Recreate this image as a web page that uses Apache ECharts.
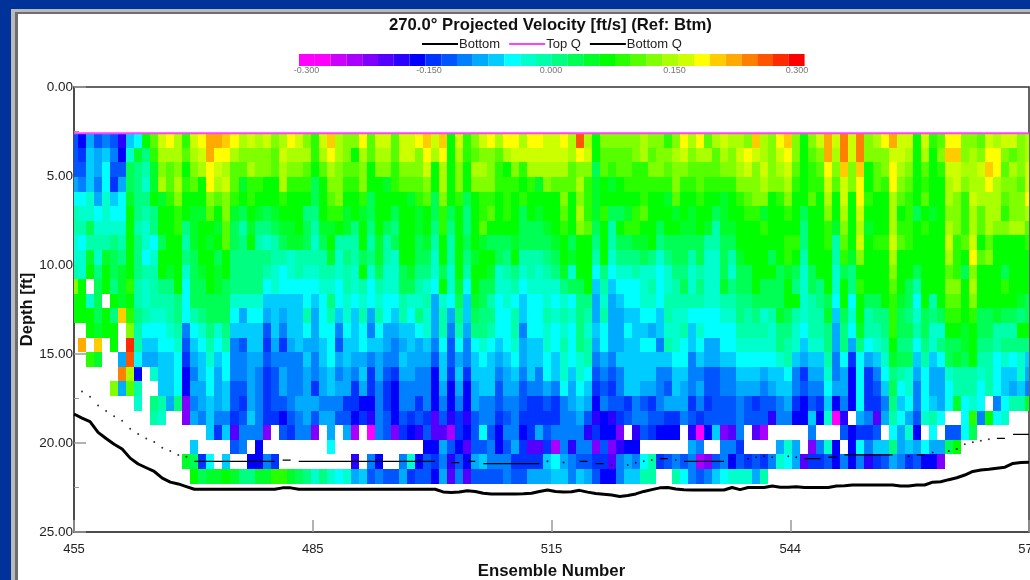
<!DOCTYPE html>
<html><head><meta charset="utf-8">
<style>html,body{margin:0;padding:0;background:#003399;overflow:hidden}#c{width:1030px;height:580px}</style>
<script src="https://cdn.jsdelivr.net/npm/echarts@6/dist/echarts.min.js"></script>
</head><body><div id="c"></div>
<script>
const titleText = "270.0° Projected Velocity [ft/s] (Ref: Btm)";
const firstEnsemble = 455;
const firstBinDepth = 2.6;
const binHeight = 0.82;
const xTickValues = [455, 484.75, 514.5, 544.25, 574];
const colorbarTicks = ["-0.300", "-0.150", "0.000", "0.150", "0.300"];
const palette = ["#FF00FF","#FF00FF","#CC00FF","#AA00FF","#8000FF","#5500FF","#2A00FF","#0000FF","#0033FF","#0055FF","#0080FF","#00AAFF","#00CCFF","#00FFFF","#00FFCC","#00FFAA","#00FF80","#00FF55","#00FF2A","#00FF00","#2AFF00","#55FF00","#80FF00","#AAFF00","#CCFF00","#FFFF00","#FFCC00","#FFAA00","#FF8000","#FF5500","#FF2A00","#FF0000"];
// velocity class read per cell: one letter per ensemble, "." = no data
const levelCodes = "abcdefghijklmnopqrstuvwxyzABCDE";
const velocityRows = [
"igkijiflms uxywtxyAAz ywxwxvwyxv txzwvvyuxx uxxyzxzsxt vxywyywyyx xywCwsvvvv vwvvtvywyu wxwwvzwvyz vsvxAxBxBv wyAxxsxtuy yvvuxwxxvw",
"ihlkljgnrp twwwuwxAyy wvvvvuxwww twywvswuww uxxvywyswt uvvuwxxxxx xxwyxsuuuu vwuvvwxvww uwvxyxwvxy vsuvAwBxBv vvxxwswsvz zvwvyyvuvw",
"iilkmiiqpo rvuvsvwyxw uuwvvuwvvu suwvuuvsvv tvvvxswsvs wwvtsvtwww wwuvvqutuu ttvvuvvuuu uvvwxvxvwx ustuyvzvzs uvywvsustx xwwxzyuwvx",
"kjljmhkqpn rwuwtusywx urttsswttt qsvvttvssr tuuuvswsvs vvvtttstrv uuuwtrsrst tttttvttut tttvvvwvvw tsttxuxvys utyvustssw xvwwywvvux",
"mmnknlmrpp srtvsssvuv tstssstsss qsuvsstqss ssrtuqvstq sttststsss svsvtrssss stssrussts srstuvvstv ssuswsxsyt sswutsussw vtxwwwuvvy",
"onnmnmmspo psstsrrusv rqsrqrsssp psttrsrqss qssrsqtqsp stustsqsrs suswtrtqqr tusssrsrss qrssttrsst sqssvswsxs sswstqsrsv vtwuwwtvvw",
"ooqnnnnson psstprssru qorppqrrsq orrsrpspsq pssrsptpsp sussssqqqr stsvuqsost tssqssrrsr orrssstsss spsstrvswr sswttstssw vtwuwvvwwu",
"nmooopospn mqssorsrsu qpsonoqrrq nqsooosoro qssqrososq srqqqrqqqq rsqsspsoqq rrspqqqqqo oqqsssssst tpsstousxs ttxutssssx tuxsusssst",
"nnrnrqpspm nssspqssqs pppppoonoo oornpoqpro nssqqnsosp rssqpsooop qsrssosnpp pqpnpqqoqn nqorsssqst sosssotrvs sswssssssw tsyuvsssss",
"onspsqrspo osrsnqrsrs ppppo nmnon noononsnqn nqrppnqnso ssrnopnono prnssmpmnn onnmnppnon nqnqqsssqr qnqssnqpss ssvssqsssu tqvsssqsss",
"vs.qsprton oppsmqqsrq ppppmnmmmm mnnmonomon nqqonmsnrm sqqnnomnnn npqqslolmm mnomnoqnpn nrpqqsqqqs pnqpsnspts ssusqosssv vswssstsss",
"ssnq.srson ooopmqqqqq nnnnlllllm lmpmnmnmnm monnoknmql rqomnmlmmn mnmppknklm mnnmooooon nooppqqqqs snopqmsmsq qstrqmsosu usvsssssrq",
"sssqspztpo nnopmopqqq mkmmklkllo kmolnlokom lompnkokpl qppmmolmmo nonpokokkl lmmlonnmmm mnnpopnorq onoorlqnso pptqpnqpqt tstqqrqqpq",
"..srss.vom mmnojmnpnp lllliljllm kmmjmlmjmk kllmnkojok ppommojmmn mnmpnlmkkm llklnnolnm mmmoooonpp nmoopkpmro optqqoqnns srsqqoooss",
".A.z.s.Dol lmmnilmomo jillhkhklk klmillmllk jklkljmimj mnmlmnklln mompokmkkl lmmjonmlmk kmmnnnnnpo nlnnpkpkpm nosppmpnpq qrsppopppp",
"..tr..kCmk kllmhklnlm jjkkijjjjl jlmklkkjkj jlkkkilikj lmlklmkllm lnmnojkjll lllllmmjlk kllmmmmmno lkllojmhmk lnrqqlolmq rqsoomnmnl",
"......Bwg. nllmgjlmkm jjkjhikjjk jkljkjlhki hkkjjglhlh llljkljljm lnlnmijijl llljjlljji ijjlllkllm jhkknjkgmh jmponkmkkn ooonomllnk",
".....vkuo. .llmgkkmkl iikjhikjjk hklkkhkhjh gjjjjgkgkg kllikkijjk jmkmlhihjl lkkjilkjki ijjkkkjkll jijjmkkgmh ilqmnjmkkm ooomomlklj",
"........n. pokpdjklkl ihkjhiijkk kjjjhhggjh gjjhjgjgjg kjjijjihhi hjklkgjiih jihjkkkhjh iiijihiijk hgihlgjgmh hjplmjmlkm rmnm.jmoor",
".......... on..dkjljj hiljhhgijk ikkiighfji gihiheifhf ijjhijhhhh hjjkifgfhi jjiihhjihi iiijiiifjj gglgnaf.kj ekomkinom. .mtjsmn...",
".......... .......lhl ejjjd.ihjj d.k.kc.aji dhgfieechg imigjjghki jjjjfhggd. fihggg.fag ldej.ec... ..j...ighh i.mkng.m.i imq.......",
".......... .....l.... ij.g...... ..m....... ....ggkige iijgikheeh cjfjjdidfg g......kj. .jjh....kn k.djng.gmj llpklkmkkq s.........",
".......... ....rqhm.l ..ggjh.... .....f.jg. .jngihjfig kljjjhhhhl mkjiihhejk jmohijijcd ijgihihjnm kehhigjgjf hikjhiggd. ..........",
".......... .....sqrrs rpprrttrqp npnmnkliji ikhiigkeje iiiijiikkk lljlkiggjl loo..omjij lmnnnko... .......... .......... .........."
];
const bottomDepth = [18.37,18.6,18.8,19.4,19.75,20.07,20.34,20.85,21.18,21.39,21.6,21.97,22.2,22.3,22.45,22.6,
22.6,22.6,22.6,22.6,22.6,22.6,22.6,22.6,22.6,22.6,22.52,22.52,22.6,22.6,22.6,22.6,22.6,22.6,22.6,22.6,22.6,22.6,22.6,22.6,22.6,22.6,22.6,22.6,22.6,22.6,
22.75,22.78,22.75,22.68,22.72,22.82,22.86,22.86,22.86,22.86,22.85,22.82,22.72,22.64,22.72,22.75,22.74,22.66,22.76,22.84,22.88,22.92,23.0,22.95,22.86,22.72,22.62,22.52,22.5,22.58,22.62,22.64,22.64,22.64,22.64,22.64,22.5,22.62,22.5,22.5,22.5,22.42,22.48,22.48,22.46,22.5,22.5,22.5,22.5,22.42,22.4,22.36,22.36,22.36,22.36,22.36,22.36,22.42,22.42,22.36,22.36,22.2,22.18,22.06,21.95,21.8,21.6,21.52,21.48,21.42,21.36,21.15,21.1,21.08];
const topQDepth = [[455,2.6],[574,2.6]];
const bottomQDots = [[456,17.1],[457,17.4],[458,17.9],[459,18.2],[460,18.5],[461,18.75],[462,19.2],[463,19.5],[464,19.75],[465,19.95],[466,20.26],[467,20.45],[468,20.67],[469,20.77],[514,21.03],[516,21.1],[522,21.24],[524,21.24],[525,21.11],[526,21.03],[527,20.96],[530,20.96],[537,20.88],[539,20.88],[540,20.8],[541,20.75],[542,20.8],[544,20.75],[545,20.8],[559,20.75],[562,20.54],[564,20.45],[565,20.34],[566,20.07],[567,19.96],[568,19.87],[569,19.79]];
const bottomQSegments = [[470,480,21.03],[481,482,20.96],[483,500,21.03],[502,503,21.1],[504,505,21.03],[506,513,21.16],[518,519,21.03],[520,521,21.16],[528,529,20.88],[531,536,21.03],[546,548,20.88],[549,550,20.8],[551,557,20.67],[560,561,20.67],[570,571,19.74],[572,574,19.51]];

const FONT = '"Liberation Sans", Arial, sans-serif';
const step = 0.6 / 31;
const cells = [];
velocityRows.forEach((row, r) => {
  row.replace(/ /g, "").split("").forEach((ch, c) => {
    const k = levelCodes.indexOf(ch);
    if (k >= 0) cells.push([firstEnsemble + c, firstBinDepth + binHeight * (r + 0.5), -0.3 + (k + 1) * step]);
  });
});
const pieces = palette.map((color, p) => ({ gte: -0.3 + (p - 0.5) * step, lt: -0.3 + (p + 0.5) * step, color }));
const bottomLine = bottomDepth.map((d, i) => [firstEnsemble + i, d]);
const dashLine = [];
bottomQSegments.forEach(s => { dashLine.push([s[0], s[2]], [s[1], s[2]], [s[1], null]); });

const chart = echarts.init(document.getElementById("c"), null, { renderer: "canvas" });
const tickLabelX = [306.5, 429, 551, 674.6, 797];
chart.setOption({
  animation: false,
  backgroundColor: "#003399",
  title: { text: titleText, left: 389, top: 17, padding: 0, textStyle: { fontFamily: FONT, fontSize: 16.7, fontWeight: "bold", color: "#111" } },
  legend: {
    data: ["Bottom", "Top Q", "Bottom Q"], left: 421, top: 37.5, padding: 0, itemWidth: 36, itemHeight: 12, itemGap: 8, selectedMode: false,
    itemStyle: { opacity: 0 }, lineStyle: { opacity: 1 },
    textStyle: { fontFamily: FONT, fontSize: 13, color: "#222", padding: [0, 0, 0, -4] }
  },
  grid: { left: 74, right: 1, top: 87, bottom: 48, show: true, outerBoundsMode: "none", backgroundColor: "#fff", borderColor: "#333", borderWidth: 1.5 },
  xAxis: {
    type: "value", min: 455, max: 574, name: "Ensemble Number", nameLocation: "middle", nameGap: 31,
    nameTextStyle: { fontFamily: FONT, fontSize: 16.8, fontWeight: "bold", color: "#111" },
    axisLine: { show: true, onZero: false, lineStyle: { color: "#444", width: 1.5 } },
    axisTick: { show: true, inside: true, length: 12, lineStyle: { color: "#999", width: 1.5 }, customValues: xTickValues },
    axisLabel: { show: true, customValues: xTickValues, margin: 11, hideOverlap: false, showMinLabel: true, showMaxLabel: true, formatter: v => String(Math.round(v)), fontFamily: FONT, fontSize: 13, color: "#222" },
    splitLine: { show: false }
  },
  yAxis: {
    type: "value", inverse: true, min: 0, max: 25, interval: 5, name: "Depth [ft]", nameLocation: "middle", nameGap: 38, nameMoveOverlap: false, nameRotate: 90, nameTextStyle: { fontFamily: FONT, fontSize: 16.5, fontWeight: "bold", color: "#111" },
    axisLine: { show: true, lineStyle: { color: "#444", width: 1.5 } },
    axisTick: { show: true, inside: true, length: 12, lineStyle: { color: "#999", width: 1.5 } },
    minorTick: { show: true, splitNumber: 2, length: 5, lineStyle: { color: "#999", width: 1 } },
    axisLabel: { margin: 1, formatter: v => v.toFixed(2), fontFamily: FONT, fontSize: 13.5, color: "#222" },
    splitLine: { show: false }
  },
  visualMap: {
    type: "piecewise", orient: "horizontal", left: 299, top: 54, padding: 0, itemWidth: 15.8, itemHeight: 12, itemGap: 0, itemSymbol: "rect",
    showLabel: false, selectedMode: false, hoverLink: false, seriesIndex: 0, dimension: 2, pieces
  },
  graphic: { elements: [
    { type: "rect", z: -5, silent: true, shape: { x: 11, y: 9, width: 1019, height: 571 }, style: { fill: "#b9b9b9" } },
    { type: "rect", z: -5, silent: true, shape: { x: 15, y: 12, width: 1015, height: 568 }, style: { fill: "#6e6e6e" } },
    { type: "rect", z: -5, silent: true, shape: { x: 18, y: 14, width: 1012, height: 566 }, style: { fill: "#ffffff" } },
    ...colorbarTicks.map((t, i) => ({ type: "text", z: 5, silent: true, style: { text: t, x: tickLabelX[i], y: 66, align: "center", verticalAlign: "top", fill: "#777", font: "9px " + FONT } }))
  ] },
  series: [
    {
      type: "custom", name: "Velocity", coordinateSystem: "cartesian2d", clip: true, z: 2, silent: true, data: cells, encode: { x: 0, y: 1 },
      dimensions: ["ensemble", "depth", "velocity"],
      renderItem: (params, api) => {
        const a = api.coord([api.value(0) - 0.5, api.value(1) - binHeight / 2]);
        const b = api.coord([api.value(0) + 0.5, api.value(1) + binHeight / 2]);
        const x0 = Math.round(a[0]), y0 = Math.round(a[1]), x1 = Math.round(b[0]), y1 = Math.round(b[1]);
        return { type: "rect", shape: { x: x0, y: y0, width: x1 - x0, height: y1 - y0 }, style: { fill: api.visual("color") } };
      }
    },
    { type: "line", name: "Bottom", z: 4, data: bottomLine, showSymbol: false, symbol: "none", clip: true, lineStyle: { color: "#000", width: 3 }, itemStyle: { color: "#000" } },
    { type: "line", name: "Top Q", z: 5, data: topQDepth, showSymbol: false, symbol: "none", lineStyle: { color: "#FF40FF", width: 2 }, itemStyle: { color: "#FF40FF" } },
    { type: "line", name: "Bottom Q", z: 4, data: dashLine, showSymbol: false, symbol: "none", connectNulls: false, lineStyle: { color: "#000", width: 1.3 }, itemStyle: { color: "#000" } },
    { type: "scatter", name: "Bottom Q", z: 4, data: bottomQDots, symbolSize: 2, itemStyle: { color: "#000" } }
  ]
});
</script></body></html>
